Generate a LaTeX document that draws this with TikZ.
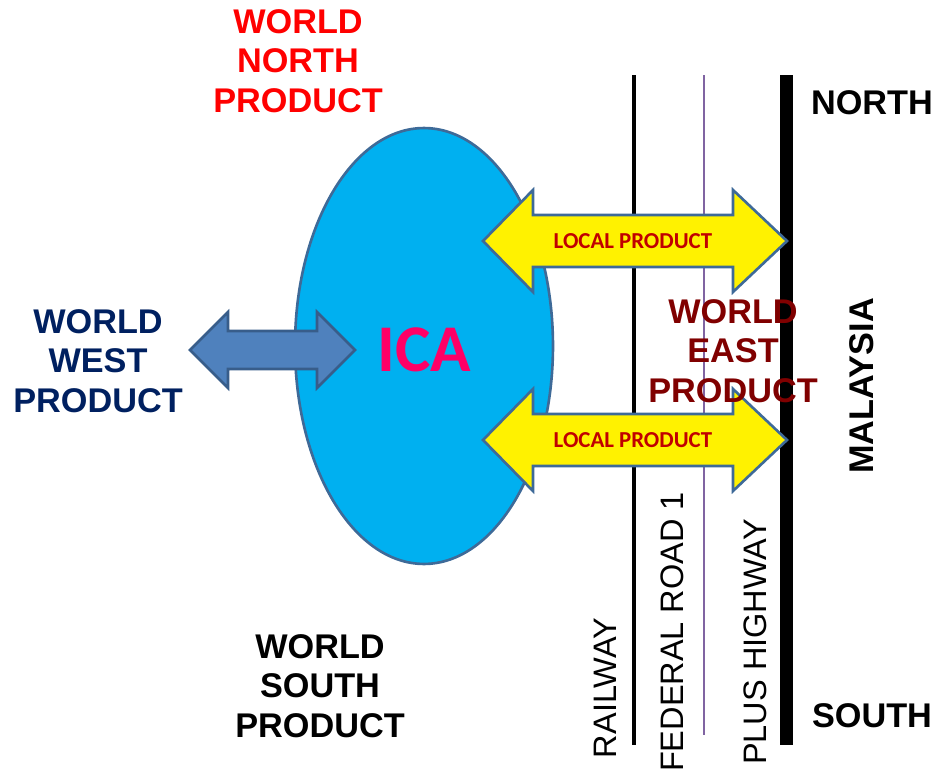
\documentclass[tikz,border=0pt]{standalone}
\usepackage{fontspec}
\setmainfont{Liberation Sans}
\newfontfamily\calibri{Carlito}
\usepackage{xcolor}
\usepackage{tikz}
\usetikzlibrary{shapes.geometric}

\definecolor{icablue}{HTML}{00B0F0}
\definecolor{icaedge}{HTML}{3E6A98}
\definecolor{icapink}{HTML}{FF0066}
\definecolor{westfill}{HTML}{4F81BD}
\definecolor{westedge}{HTML}{385D8A}
\definecolor{westnavy}{HTML}{002060}
\definecolor{eastred}{HTML}{800000}
\definecolor{localred}{HTML}{C00000}
\definecolor{roadpurple}{HTML}{8064A2}

\tikzset{
	worldlabel/.style={align=center, inner sep=0pt, font=\bfseries\fontsize{19.5}{22.4}\selectfont},
	compass/.style={inner sep=0pt, font=\bfseries\fontsize{19.5}{22.4}\selectfont},
	roadlabel/.style={rotate=90, inner sep=0pt, font=\fontsize{18.5}{20}\selectfont},
	localarrow/.style={draw=icaedge, fill=yellow, line width=1.5pt, line join=miter},
	locallabel/.style={inner sep=0pt, text=localred, font=\calibri\bfseries\fontsize{13}{15}\selectfont},
}

\begin{document}
\begin{tikzpicture}[x=0.02cm, y=-0.02cm]
		\useasboundingbox (0,0) rectangle (938,771);
		% roads
		\draw[draw=black, line width=2.8pt] (634,75) coordinate (railtop) -- (634,745) coordinate (railbot);
		\draw[draw=roadpurple, line width=1.6pt] (704,75) coordinate (fedtop) -- (704,735) coordinate (fedbot);
		\draw[draw=black, line width=7.4pt] (786,75) coordinate (plustop) -- (786,745) coordinate (plusbot);
		% ICA
		\node[ellipse, draw=icaedge, fill=icablue, line width=1.5pt, minimum width=5.16cm, minimum height=8.72cm, inner sep=0pt] (icaoval) at (424,346) {};
		\node[text=icapink, inner sep=0pt, font=\calibri\bfseries\fontsize{38}{40}\selectfont] (ica) at (424,350) {ICA};
		% west arrow
		\draw[draw=westedge, fill=westfill, line width=1.5pt, line join=miter] (190,350) -- (228,312) -- (228,331) -- (317,331) -- (317,312) -- (355,350) -- (317,388) -- (317,369) -- (228,369) -- (228,388) -- cycle;
		% local arrows
		\foreach \yc/\nm in {241/localtop, 440/localbot} {
			\draw[localarrow] (483,\yc) -- (533,\yc-51) -- (533,\yc-26) -- (733,\yc-26) -- (733,\yc-51) -- (787,\yc) -- (733,\yc+51) -- (733,\yc+26) -- (533,\yc+26) -- (533,\yc+51) -- cycle;
			\node[locallabel] (\nm) at (633,\yc) {LOCAL PRODUCT};
		}
		% labels
		\node[worldlabel, text=red] (north) at (298,61) {WORLD\\NORTH\\PRODUCT};
		\node[worldlabel, text=westnavy] (west) at (98,361) {WORLD\\WEST\\PRODUCT};
		\node[worldlabel, text=eastred] (east) at (733,351) {WORLD\\EAST\\PRODUCT};
		\node[worldlabel, text=black] (south) at (320,686) {WORLD\\SOUTH\\PRODUCT};
		\node[compass] (northmark) at (872,103) {NORTH};
		\node[compass] (southmark) at (872,716) {SOUTH};
		\node[compass, rotate=90] (malaysia) at (862,386) {MALAYSIA};
		\node[roadlabel] (railway) at (605,688) {RAILWAY};
		\node[roadlabel] (federal) at (672,632) {FEDERAL ROAD 1};
		\node[roadlabel] (plus) at (755,642) {PLUS HIGHWAY};
	\end{tikzpicture}
\end{document}
